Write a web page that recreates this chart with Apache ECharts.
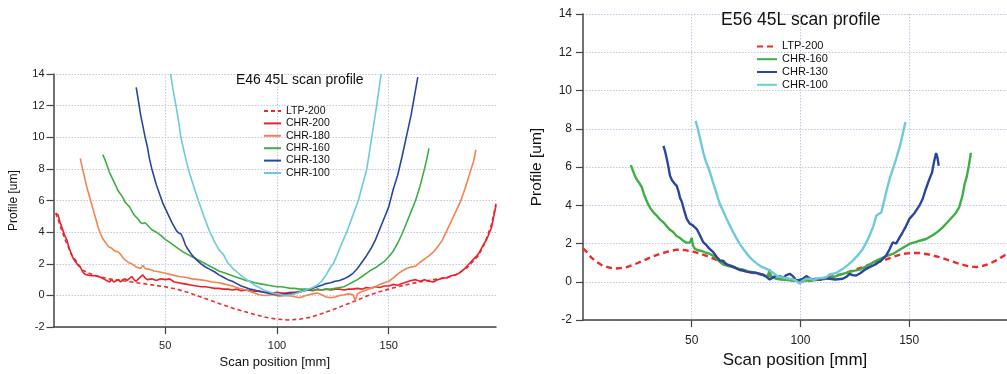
<!DOCTYPE html>
<html><head><meta charset="utf-8">
<script src="https://cdn.jsdelivr.net/npm/echarts@6/dist/echarts.min.js"></script>
<style>html,body{margin:0;padding:0;background:#fff}#c{width:1007px;height:374px}</style>
</head><body><div id="c"></div>
<script>
// ---------- data ----------
const leftTitle = 'E46 45L scan profile';
const rightTitle = 'E56 45L scan profile';
const xName = 'Scan position [mm]';
const yName = 'Profile [um]';
const xTicks = [50, 100, 150];

// Left panel (E46)
const e46_LTP200 = [[1,5.2],[3,4.4],[5,3.6],[8,2.6],[10,2.2],[13,1.6],[16,1.4],[20,1.2],[25,1.05],[30,0.95],[35,0.85],[40,0.75],[45,0.65],[50,0.55],[55,0.4],[60,0.2],[65,-0.05],[70,-0.3],[75,-0.55],[80,-0.8],[85,-1.0],[90,-1.2],[95,-1.38],[100,-1.5],[105,-1.55],[110,-1.5],[115,-1.38],[120,-1.15],[125,-0.9],[130,-0.62],[135,-0.35],[140,-0.05],[145,0.2],[150,0.4],[155,0.58],[160,0.75],[165,0.88],[170,1.0],[175,1.1],[180,1.3],[185,1.75],[190,2.5],[193,3.3],[196,4.5],[198,5.8]];
const e46_CHR200 = [[1,5.2],[2,5.1],[3,4.6],[4,4.2],[5,3.8],[6,3.5],[7,3.0],[8,2.6],[9,2.3],[10,2.1],[11,1.9],[12,1.8],[13,1.5],[14,1.35],[15,1.3],[17,1.25],[19,1.25],[21,1.15],[23,1.0],[25,0.85],[26,1.0],[27,0.85],[29,1.0],[30,0.85],[31,1.0],[32,1.05],[33,0.95],[35,1.2],[36,1.0],[37,0.9],[38,1.05],[40,1.3],[41,1.1],[42,1.0],[44,1.05],[46,0.95],[48,1.05],[50,1.0],[52,1.05],[54,0.85],[56,0.8],[58,0.75],[60,0.7],[62,0.65],[64,0.6],[66,0.55],[68,0.55],[70,0.5],[72,0.45],[74,0.45],[76,0.4],[78,0.4],[80,0.35],[82,0.4],[84,0.3],[86,0.35],[88,0.3],[90,0.25],[92,0.3],[94,0.2],[96,0.2],[98,0.15],[100,0.2],[102,0.15],[104,0.15],[106,0.2],[108,0.2],[110,0.25],[112,0.3],[114,0.35],[116,0.3],[118,0.4],[120,0.35],[122,0.4],[124,0.35],[126,0.4],[128,0.4],[130,0.35],[132,0.4],[134,0.4],[136,0.45],[138,0.4],[140,0.5],[142,0.45],[144,0.55],[146,0.5],[148,0.6],[150,0.6],[152,0.7],[154,0.65],[156,0.75],[158,0.85],[160,0.95],[162,1.0],[164,0.9],[166,1.0],[168,0.9],[170,0.85],[172,1.0],[174,1.1],[176,1.1],[178,1.25],[180,1.3],[182,1.45],[184,1.7],[186,2.0],[188,2.3],[190,2.6],[192,3.1],[194,3.6],[196,4.3],[197,5.0],[198,5.7]];
const e46_CHR180 = [[12,8.66],[13,8.0],[14,7.4],[15,6.8],[16,6.3],[17,5.8],[18,5.3],[19,4.8],[20,4.3],[21,3.9],[22,3.6],[23,3.4],[24,3.2],[25,3.05],[26,3.0],[27,2.85],[28,2.8],[29,2.75],[30,2.6],[31,2.4],[32,2.25],[33,2.15],[34,2.05],[35,2.0],[36,1.9],[37,1.8],[38,1.75],[39,1.7],[40,1.9],[41,1.7],[43,1.65],[45,1.55],[47,1.5],[50,1.4],[53,1.3],[56,1.2],[59,1.15],[62,1.05],[65,1.0],[68,0.95],[71,0.85],[74,0.8],[77,0.7],[80,0.6],[83,0.45],[86,0.35],[89,0.2],[92,0.05],[95,0.0],[98,0.05],[101,-0.05],[104,0.0],[107,-0.05],[110,-0.15],[113,0.0],[116,0.1],[118,0.15],[120,0.05],[122,-0.1],[124,-0.15],[126,-0.1],[128,0.0],[130,0.05],[132,0.1],[134,0.05],[135,-0.3],[136,0.1],[138,0.25],[140,0.35],[142,0.45],[144,0.55],[146,0.7],[148,0.8],[150,0.9],[152,1.1],[154,1.35],[156,1.55],[158,1.7],[160,1.8],[162,1.85],[164,2.1],[166,2.3],[168,2.5],[170,2.75],[172,3.1],[174,3.5],[176,4.1],[178,4.7],[180,5.3],[182,5.9],[184,6.7],[186,7.6],[188,8.5],[189,9.2]];
const e46_CHR160 = [[22,8.9],[23,8.6],[24,8.2],[25,7.8],[26,7.5],[27,7.2],[28,6.9],[29,6.6],[30,6.4],[31,6.2],[32,5.9],[33,5.75],[34,5.6],[35,5.35],[36,5.1],[37,4.95],[38,4.8],[39,4.6],[40,4.55],[41,4.6],[42,4.45],[43,4.3],[44,4.15],[46,4.0],[48,3.8],[50,3.55],[52,3.35],[54,3.15],[56,2.95],[58,2.75],[60,2.6],[62,2.45],[64,2.3],[66,2.15],[68,2.0],[70,1.85],[72,1.7],[74,1.55],[76,1.45],[78,1.35],[80,1.25],[82,1.15],[84,1.05],[86,0.95],[88,0.9],[90,0.8],[92,0.75],[94,0.7],[96,0.65],[98,0.6],[100,0.55],[102,0.55],[104,0.5],[106,0.45],[108,0.45],[110,0.4],[112,0.4],[114,0.4],[116,0.35],[118,0.35],[120,0.35],[122,0.4],[124,0.4],[126,0.45],[128,0.5],[130,0.55],[132,0.7],[134,0.85],[136,1.0],[138,1.2],[140,1.4],[142,1.6],[144,1.75],[146,1.95],[148,2.15],[150,2.45],[152,2.8],[154,3.3],[156,3.9],[158,4.6],[160,5.3],[162,6.0],[164,6.9],[166,8.0],[167,8.6],[168,9.3]];
const e46_CHR130 = [[37,13.16],[38,12.3],[39,11.4],[40,10.7],[41,10.0],[42,9.4],[43,8.6],[44,8.0],[45,7.5],[46,7.0],[47,6.6],[48,6.2],[49,5.8],[50,5.5],[51,5.2],[52,4.9],[53,4.6],[54,4.35],[55,4.1],[56,3.95],[57,3.9],[57.5,4.0],[58,3.6],[59,3.2],[60,2.95],[61,2.75],[62,2.55],[63,2.4],[64,2.25],[66,2.0],[68,1.8],[70,1.65],[72,1.5],[74,1.3],[76,1.15],[78,1.0],[80,0.9],[82,0.75],[84,0.6],[86,0.5],[88,0.4],[90,0.35],[92,0.25],[94,0.2],[96,0.15],[98,0.1],[100,0.05],[102,0.05],[104,0.1],[106,0.1],[108,0.15],[110,0.2],[112,0.3],[114,0.35],[116,0.45],[118,0.55],[120,0.65],[122,0.75],[124,0.8],[126,0.9],[128,0.95],[130,1.05],[132,1.2],[134,1.4],[136,1.7],[138,2.1],[140,2.5],[142,2.95],[144,3.5],[146,4.2],[148,4.9],[150,5.6],[152,6.7],[154,7.6],[156,8.8],[158,10.1],[160,11.4],[162,13.0],[163,13.8]];
const e46_CHR100 = [[52.4,14.0],[53.5,13.0],[54.8,12.0],[56,11.0],[57,10.0],[58.6,9.0],[60.3,8.0],[62.5,7.0],[64.8,6.0],[67.3,5.0],[70,4.0],[72,3.4],[74,2.9],[76,2.6],[78,2.05],[80,1.75],[82,1.5],[84,1.25],[86,1.05],[88,0.85],[90,0.65],[92,0.5],[94,0.35],[96,0.25],[98,0.15],[100,0.1],[102,0.05],[104,0.0],[106,0.05],[108,0.1],[110,0.2],[112,0.3],[114,0.4],[116,0.5],[118,0.65],[120,0.9],[122,1.3],[124,1.8],[125.2,2.0],[127,2.6],[129,3.3],[131.2,4.0],[133.8,5.0],[136.4,6.0],[138.3,7.0],[140.2,8.0],[141.3,9.0],[142.4,10.0],[143.5,11.0],[144.6,12.0],[145.6,13.0],[146.6,14.0]];

// Right panel (E56)
const e56_LTP200 = [[0,1.75],[1.8,1.55],[4,1.25],[6.4,1.03],[9,0.85],[12.5,0.73],[16,0.7],[20.2,0.77],[24,0.93],[27.8,1.11],[31.5,1.3],[35.5,1.46],[39,1.58],[43.1,1.68],[47,1.66],[50.7,1.58],[54.5,1.45],[58.4,1.29],[62,1.12],[66.1,0.94],[70,0.76],[73.7,0.59],[78,0.47],[82.8,0.37],[87,0.27],[92,0.16],[96.5,0.07],[101.2,0.02],[105.5,0.08],[110.4,0.19],[115,0.3],[119.5,0.42],[124,0.59],[128.7,0.77],[133,0.95],[137.9,1.11],[142.5,1.3],[147,1.46],[151,1.51],[154.7,1.51],[159,1.43],[163.9,1.29],[168.5,1.12],[173.1,0.94],[177,0.82],[180.7,0.77],[184,0.84],[186.8,0.94],[190,1.12],[193.7,1.37],[195,1.48]];
const e56_CHR160 = [[22,6.1],[23,5.8],[24,5.5],[25,5.3],[26,5.15],[27,4.95],[28,4.6],[29,4.3],[30,4.05],[31,3.85],[32.4,3.63],[34,3.45],[35.5,3.25],[37,3.11],[38.5,2.9],[40,2.72],[41.6,2.59],[43,2.4],[44.5,2.3],[46.1,2.15],[47.5,2.05],[49.2,2.05],[50,2.3],[50.6,1.9],[51.5,1.72],[53,1.65],[55,1.6],[56.5,1.52],[58.4,1.46],[60,1.35],[61.5,1.2],[63,1.03],[64.5,0.9],[66.1,0.85],[68,0.8],[70,0.74],[72,0.68],[73.7,0.64],[76,0.55],[78,0.5],[80,0.46],[81.3,0.42],[83,0.35],[85,0.3],[85.9,0.65],[86.5,0.28],[88,0.2],[89,0.16],[91,0.12],[93,0.1],[96.6,0.07],[100,0.05],[104.2,0.07],[108,0.1],[112,0.16],[116,0.28],[119.5,0.42],[123,0.53],[127.2,0.64],[131,0.85],[134.9,1.11],[138.5,1.3],[142.5,1.46],[146,1.7],[150.1,1.98],[154,2.12],[157.8,2.24],[161,2.45],[163.5,2.65],[165.4,2.85],[167.5,3.1],[169.5,3.35],[171.5,3.6],[173,3.9],[174.5,4.5],[175.5,5.1],[176.5,5.5],[177.5,6.1],[178.4,6.75]];
const e56_CHR130 = [[37,7.11],[37.8,6.8],[38.6,6.4],[39.3,6.0],[40,5.55],[41,5.3],[42,5.15],[43.1,5.02],[44,4.7],[44.6,4.4],[45.4,4.2],[46.5,3.75],[47.7,3.29],[49,3.05],[50.5,2.95],[52.3,2.76],[53.5,2.5],[55.3,2.07],[56.5,1.95],[58,1.75],[59.9,1.55],[61.5,1.3],[63,1.11],[64.5,1.1],[65.5,0.95],[67.6,0.85],[69,0.78],[70.5,0.7],[72,0.62],[73.7,0.59],[75.5,0.52],[77,0.5],[79,0.48],[81.3,0.42],[83,0.35],[84.5,0.25],[85.9,0.12],[87,0.2],[88.5,0.3],[90.5,0.3],[92,0.2],[93.5,0.35],[95.1,0.42],[96.5,0.3],[98.1,0.07],[99.5,0.1],[101,0.15],[102.7,0.3],[104,0.2],[105.5,0.12],[107.3,0.16],[109,0.1],[111,0.2],[113.4,0.16],[116,0.12],[119.5,0.16],[121,0.25],[122.6,0.42],[124,0.35],[125.6,0.33],[127.5,0.45],[130.2,0.68],[132.5,0.8],[134.9,0.94],[137,1.1],[139.4,1.37],[141,1.7],[142.5,2.07],[144,2.0],[145.5,2.3],[147,2.59],[148.5,2.9],[150.1,3.29],[152.5,3.6],[154.7,3.98],[156.2,4.33],[157.5,4.8],[159.3,5.37],[160.5,5.7],[161.5,6.3],[162.4,6.73],[163,6.5],[163.6,6.07]];
const e56_CHR100 = [[51.8,8.41],[52.8,8.0],[53.8,7.5],[55.3,6.77],[56.5,6.3],[57.5,6.0],[58.4,5.72],[59.5,5.3],[60.5,4.95],[61.5,4.6],[62.2,4.33],[63,4.05],[64.5,3.7],[66.1,3.29],[67.5,2.95],[69.1,2.59],[70.5,2.3],[72,2.0],[73.7,1.72],[75.5,1.45],[77,1.25],[78.3,1.11],[80,0.95],[82,0.8],[84.4,0.68],[85.5,0.62],[87,0.5],[89,0.33],[91,0.25],[93,0.2],[95.1,0.16],[97.5,0.1],[99.7,-0.1],[101,0.05],[102.5,0.15],[104.2,0.16],[106,0.1],[108,0.18],[110,0.2],[112,0.25],[113.5,0.4],[115,0.42],[117,0.5],[119.5,0.68],[122,0.9],[124.1,1.11],[126.5,1.4],[128.7,1.72],[130.5,2.1],[131.8,2.42],[133.5,2.9],[134.9,3.46],[136,3.55],[137.2,3.63],[138.2,4.1],[138.7,4.33],[139.8,4.85],[141,5.37],[142.5,5.9],[144,6.42],[145.5,7.0],[146.8,7.6],[148.3,8.36]];

const leftNames = ['LTP-200','CHR-200','CHR-180','CHR-160','CHR-130','CHR-100'];
const rightNames = ['LTP-200','CHR-160','CHR-130','CHR-100'];

// ---------- styling ----------
const C = {'LTP-200':'#ee2a2a','CHR-200':'#e8212b','CHR-180':'#f5834f','CHR-160':'#3fae45','CHR-130':'#2b479d','CHR-100':'#6dcbd8'};
const FONT = 'Liberation Sans, Arial, sans-serif';
const gridLine = {show:true, lineStyle:{color:'#c4c4e6', type:[1.5,1.5], width:1}};

function xAx(gi, max, fs, margin, gap){
  return {type:'value', gridIndex:gi, min:0, max:max, interval:50,
    axisLine:{show:true, onZero:false, lineStyle:{color:'#444', width:1.5}},
    axisTick:{show:true, inside:false, length:7, lineStyle:{color:'#444', width:1.2},
      customValues: xTicks},
    axisLabel:{show:true, customValues: xTicks, margin:margin, fontSize:fs, color:'#222', fontFamily:FONT},
    splitLine:gridLine,
    name:xName, nameLocation:'middle', nameGap:gap,
    nameTextStyle:{fontSize:fs+2+(gi?3:0), color:'#111', fontFamily:FONT}};
}
function yAx(gi, fs, margin, gap, nfs){
  return {type:'value', gridIndex:gi, min:-2, max:14, interval:2,
    axisLine:{show:true, onZero:false, lineStyle:{color:'#444', width:1.5}},
    axisTick:{show:true, length:7, lineStyle:{color:'#444', width:1.2}},
    axisLabel:{margin:margin, fontSize:fs, color:'#222', fontFamily:FONT},
    splitLine:gridLine,
    name:yName, nameLocation:'middle', nameGap:gap, nameRotate:90,
    nameTextStyle:{fontSize:nfs, color:'#111', fontFamily:FONT}};
}

const dataL = {'LTP-200':e46_LTP200,'CHR-200':e46_CHR200,'CHR-180':e46_CHR180,'CHR-160':e46_CHR160,'CHR-130':e46_CHR130,'CHR-100':e46_CHR100};
const dataR = {'LTP-200':e56_LTP200,'CHR-160':e56_CHR160,'CHR-130':e56_CHR130,'CHR-100':e56_CHR100};

const series = [];
leftNames.forEach(n => series.push({
  name:'L:'+n, type:'line', xAxisIndex:0, yAxisIndex:0, data:dataL[n],
  showSymbol:false, symbol:'none', smooth:false, animation:false, clip:true,
  z: n==='LTP-200'?1:2,
  itemStyle:{color:C[n]},
  lineStyle:{color:C[n], width:1.6, type: n==='LTP-200'?[4,3]:'solid'}
}));
rightNames.forEach(n => series.push({
  name:'R:'+n, type:'line', xAxisIndex:1, yAxisIndex:1, data:dataR[n],
  showSymbol:false, symbol:'none', smooth:false, animation:false, clip:true,
  z: n==='LTP-200'?1:2,
  itemStyle:{color:C[n]},
  lineStyle:{color:C[n], width:2.4, type: n==='LTP-200'?[6,4]:'solid'}
}));

const chart = echarts.init(document.getElementById('c'), null, {renderer:'canvas'});
chart.setOption({
  animation:false,
  backgroundColor:'#fff',
  textStyle:{fontFamily:FONT},
  title:[
    {text:leftTitle, left:231, top:68, textStyle:{fontSize:14, fontWeight:'normal', color:'#111', fontFamily:FONT}},
    {text:rightTitle, left:716, top:6, textStyle:{fontSize:17.5, fontWeight:'normal', color:'#111', fontFamily:FONT}}
  ],
  legend:[
    {data:leftNames.map(n=>'L:'+n), formatter:n=>n.slice(2), orient:'vertical', left:258, top:100,
     itemWidth:17, itemHeight:12, itemGap:0.4, itemStyle:{opacity:0},
     textStyle:{fontSize:10.5, lineHeight:12, color:'#111', fontFamily:FONT}},
    {data:rightNames.map(n=>'R:'+n), formatter:n=>n.slice(2), orient:'vertical', left:751, top:35,
     itemWidth:20, itemHeight:12.8, itemGap:0, itemStyle:{opacity:0},
     textStyle:{fontSize:11, lineHeight:12.8, color:'#111', fontFamily:FONT}}
  ],
  grid:[
    {left:53.5, top:74, width:442.5, height:255, containLabel:false},
    {left:583, top:14, width:424, height:308, containLabel:false}
  ],
  xAxis:[xAx(0,198,11,13,28), xAx(1,195,12,15,30)],
  yAxis:[yAx(0,11,9,34,12), yAx(1,12,11,38,15.5)],
  series:series
});
</script></body></html>
